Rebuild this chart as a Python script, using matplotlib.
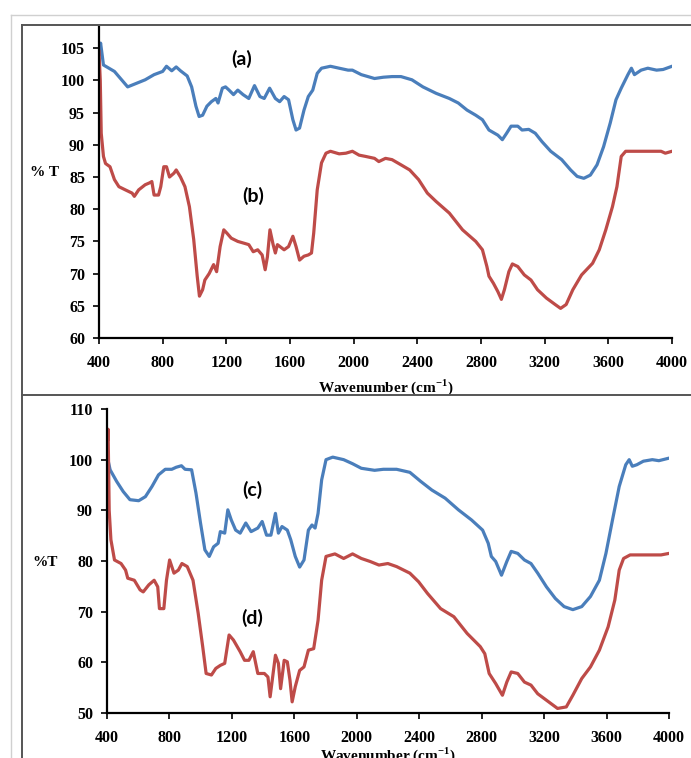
import matplotlib
matplotlib.use("Agg")
import matplotlib.pyplot as plt
from matplotlib.lines import Line2D

# FTIR spectra, values
wn_a = [400, 410, 428, 497, 580, 690, 746, 800, 824, 857, 885, 912, 954, 982, 1009, 1029,
        1051, 1078, 1106, 1134, 1148, 1175, 1195, 1217, 1245, 1272, 1305, 1341, 1377, 1411,
        1438, 1472, 1508, 1535, 1563, 1591, 1618, 1638, 1660, 1688, 1715, 1743, 1771, 1798,
        1854, 1909, 1965, 1992, 2048, 2131, 2186, 2241, 2297, 2366, 2435, 2518, 2601, 2657,
        2712, 2767, 2809, 2850, 2906, 2934, 2961, 2989, 3031, 3058, 3100, 3141, 3183, 3238,
        3307, 3363, 3404, 3446, 3487, 3529, 3570, 3612, 3648, 3681, 3723, 3745, 3764, 3806,
        3848, 3903, 3944, 4000]
t_a = [104.0, 105.8, 102.4, 101.4, 99.0, 100.1, 100.9, 101.4, 102.2, 101.5, 102.1, 101.5, 100.7,
       99.0, 96.0, 94.4, 94.6, 96.0, 96.7, 97.2, 96.5, 98.8, 99.0, 98.5, 97.8, 98.5, 97.8,
       97.2, 99.2, 97.5, 97.2, 98.8, 97.2, 96.7, 97.5, 97.0, 93.9, 92.3, 92.6, 95.4, 97.5,
       98.5, 101.1, 101.9, 102.2, 101.9, 101.6, 101.6, 100.9, 100.3, 100.5, 100.6, 100.6, 100.1,
       99.0, 98.0, 97.2, 96.5, 95.4, 94.6, 93.9, 92.3, 91.5, 90.8, 91.8, 92.9, 92.9, 92.3,
       92.4, 91.8, 90.5, 89.0, 87.7, 86.1, 85.1, 84.8, 85.3, 86.9, 89.7, 93.4, 97.0, 98.8,
       100.9, 101.9, 100.9, 101.6, 101.9, 101.6, 101.7, 102.2]

wn_b = [400, 408, 414, 428, 441, 469, 497, 525, 566, 608, 622, 649, 690, 718, 732, 746, 774,
        788, 807, 824, 843, 871, 885, 912, 940, 968, 995, 1017, 1031, 1051, 1065, 1092, 1120,
        1139, 1161, 1184, 1203, 1231, 1272, 1314, 1341, 1369, 1397, 1425, 1444, 1458, 1474,
        1494, 1508, 1521, 1563, 1591, 1618, 1638, 1660, 1688, 1715, 1735, 1749, 1771, 1798,
        1826, 1854, 1909, 1951, 1992, 2034, 2075, 2131, 2158, 2200, 2241, 2297, 2352, 2408,
        2463, 2518, 2601, 2684, 2767, 2809, 2837, 2850, 2878, 2906, 2928, 2947, 2975, 2997,
        3031, 3072, 3114, 3155, 3211, 3266, 3300, 3335, 3377, 3432, 3501, 3543, 3584, 3626,
        3654, 3681, 3709, 3764, 3931, 3958, 4000]
t_b = [104.5, 100.0, 91.8, 88.2, 87.1, 86.6, 84.6, 83.5, 83.0, 82.5, 82.0, 83.0, 83.8, 84.1,
       84.3, 82.2, 82.2, 83.5, 86.6, 86.6, 85.0, 85.6, 86.1, 85.0, 83.5, 80.4, 75.3, 69.6,
       66.5, 67.5, 69.0, 70.0, 71.4, 70.3, 74.2, 76.8, 76.3, 75.5, 75.0, 74.7, 74.5, 73.4,
       73.7, 72.9, 70.6, 72.6, 76.8, 74.5, 73.2, 74.5, 73.7, 74.2, 75.8, 74.2, 72.1, 72.7,
       72.9, 73.2, 76.3, 83.0, 87.2, 88.7, 89.0, 88.6, 88.7, 89.0, 88.4, 88.2, 87.9, 87.4,
       87.9, 87.7, 86.9, 86.1, 84.6, 82.5, 81.2, 79.4, 76.8, 75.0, 73.7, 71.1, 69.6, 68.5,
       67.2, 66.0, 67.5, 70.3, 71.5, 71.1, 69.8, 69.0, 67.5, 66.2, 65.2, 64.6, 65.2, 67.5,
       69.8, 71.6, 73.7, 76.8, 80.4, 83.5, 88.2, 89.0, 89.0, 89.0, 88.7, 89.0]

wn_c = [406, 420, 462, 504, 547, 603, 646, 688, 730, 773, 815, 843, 877, 900, 942, 970, 999,
        1027, 1055, 1083, 1112, 1126, 1154, 1174, 1196, 1224, 1253, 1289, 1323, 1366, 1394,
        1422, 1450, 1479, 1498, 1521, 1555, 1577, 1606, 1634, 1662, 1690, 1713, 1733, 1752,
        1775, 1803, 1846, 1916, 1973, 2029, 2114, 2170, 2255, 2340, 2410, 2481, 2566, 2651,
        2735, 2806, 2842, 2862, 2890, 2927, 2961, 2989, 3031, 3074, 3116, 3159, 3215, 3272,
        3328, 3384, 3441, 3497, 3554, 3596, 3638, 3681, 3723, 3745, 3765, 3794, 3836, 3893,
        3935, 4000]
t_c = [100.0, 98.0, 95.7, 93.7, 92.1, 91.9, 92.7, 94.7, 97.0, 98.1, 98.1, 98.5, 98.8, 98.1,
       98.0, 93.4, 87.5, 82.2, 80.9, 82.8, 83.5, 85.8, 85.5, 90.1, 88.1, 86.1, 85.5, 87.5,
       85.8, 86.5, 87.8, 85.1, 85.1, 89.4, 85.5, 86.8, 86.1, 84.2, 80.9, 78.8, 80.2, 86.1,
       87.1, 86.5, 89.4, 96.0, 100.0, 100.5, 100.0, 99.2, 98.3, 97.9, 98.1, 98.1, 97.5, 95.7,
       94.0, 92.4, 90.1, 88.1, 86.1, 83.5, 80.9, 79.9, 77.2, 79.9, 81.9, 81.5, 80.2, 79.5,
       77.6, 74.9, 72.6, 71.0, 70.4, 71.0, 73.0, 76.2, 81.5, 88.1, 94.7, 99.0, 100.0, 98.7,
       99.0, 99.7, 100.0, 99.8, 100.3]

wn_d = [404, 407, 414, 425, 448, 490, 519, 533, 575, 612, 632, 668, 702, 725, 736, 764, 781,
        801, 829, 857, 880, 914, 951, 984, 1013, 1035, 1069, 1097, 1126, 1154, 1182, 1210,
        1253, 1281, 1309, 1337, 1366, 1408, 1431, 1445, 1464, 1479, 1498, 1512, 1535, 1555,
        1572, 1586, 1606, 1634, 1662, 1690, 1724, 1752, 1775, 1803, 1860, 1916, 1973, 2029,
        2086, 2142, 2199, 2255, 2340, 2396, 2453, 2537, 2622, 2707, 2791, 2820, 2848, 2890,
        2933, 2961, 2989, 3031, 3074, 3116, 3159, 3229, 3286, 3342, 3384, 3441, 3497, 3554,
        3610, 3653, 3681, 3709, 3751, 3949, 4000]
t_d = [104.0, 106.0, 90.0, 84.2, 80.2, 79.5, 78.2, 76.6, 76.2, 74.3, 73.9, 75.3, 76.2, 74.9,
       70.6, 70.6, 76.2, 80.2, 77.6, 78.2, 79.5, 78.9, 76.2, 69.7, 63.1, 57.8, 57.5, 58.8,
       59.4, 59.8, 65.4, 64.4, 62.1, 60.4, 60.4, 62.1, 57.8, 57.8, 57.1, 53.2, 57.8, 61.4,
       59.8, 54.8, 60.4, 60.1, 56.5, 52.2, 55.2, 58.4, 59.1, 62.4, 62.7, 68.3, 76.2, 80.9,
       81.4, 80.5, 81.4, 80.5, 79.9, 79.2, 79.5, 78.9, 77.6, 75.9, 73.6, 70.6, 69.0, 65.7,
       63.1, 61.7, 57.8, 55.8, 53.5, 56.1, 58.1, 57.8, 56.1, 55.5, 53.8, 52.2, 50.9, 51.2,
       53.5, 56.8, 59.1, 62.4, 67.0, 72.3, 78.2, 80.5, 81.2, 81.2, 81.5]

x_ticks = [400, 800, 1200, 1600, 2000, 2400, 2800, 3200, 3600, 4000]

BLUE = '#4A7EBB'
RED = '#BE4B48'
W, H = 691, 758

tick_font = dict(family='Liberation Serif', weight='bold', size=11.5)
note_kw = dict(fontfamily='Lato', fontweight='bold', fontsize=14, ha='center', va='center')


def style_axes(ax, ylim, yticks, ylabel, ylabel_y, labelpad):
    ax.set_xlim(400, 4000)
    ax.set_ylim(*ylim)
    ax.set_xticks(x_ticks)
    ax.set_yticks(yticks)
    for s in ['top', 'right']:
        ax.spines[s].set_visible(False)
    for s in ['left', 'bottom']:
        ax.spines[s].set_linewidth(1.6)
        ax.spines[s].set_color('black')
    ax.tick_params(direction='out', length=4, width=1.2, pad=6)
    ax.tick_params(axis='x', pad=8)
    for lab in ax.get_xticklabels() + ax.get_yticklabels():
        lab.set_fontproperties(tick_font)
    ax.set_xlabel('Wavenumber (cm$^{\\mathbf{-1}}$)', fontfamily='Liberation Serif',
                  fontweight='bold', fontsize=11, labelpad=labelpad)
    ax.text(45 / W, ylabel_y, ylabel, transform=ax.figure.transFigure, ha='center', va='center',
            fontfamily='Liberation Serif', fontweight='bold', fontsize=11)


fig = plt.figure(figsize=(W / 100, H / 100), dpi=100)
plt.rcParams['mathtext.fontset'] = 'custom'
plt.rcParams['mathtext.bf'] = 'Liberation Serif:bold'


# frame lines (light outer border, dark panel boxes)
def fline(x0, y0, x1, y1, color, lw):
    fig.add_artist(Line2D([x0 / W, x1 / W], [1 - y0 / H, 1 - y1 / H], color=color, lw=lw))


fline(11, 15, W, 15, '#d0d0d0', 1.0)
fline(11, 15, 11, H, '#d0d0d0', 1.0)
fline(22, 25, W, 25, '#555555', 1.4)
fline(22, 25, 22, H, '#555555', 1.4)
fline(22, 395, W, 395, '#555555', 1.4)

ax1 = fig.add_axes([99 / W, 1 - 338 / H, (672 - 99) / W, (338 - 27) / H])
ax1.plot(wn_a, t_a, color=BLUE, lw=2.3)
ax1.plot(wn_b, t_b, color=RED, lw=2.3)
style_axes(ax1, (60, 108.3), list(range(60, 106, 5)), '% T', 1 - 173 / H, 5)
ax1.text(1298, 103.4, '(a)', **note_kw)
ax1.text(1367, 82.0, '(b)', **note_kw)

ax2 = fig.add_axes([107 / W, 1 - 713 / H, (669 - 107) / W, (713 - 409) / H])
ax2.plot(wn_c, t_c, color=BLUE, lw=2.3)
ax2.plot(wn_d, t_d, color=RED, lw=2.3)
style_axes(ax2, (50, 110), list(range(50, 111, 10)), '%T', 1 - 562 / H, 0)
ax2.text(1332, 94.0, '(c)', **note_kw)
ax2.text(1332, 68.7, '(d)', **note_kw)

fig.savefig('out.png', dpi=100)
